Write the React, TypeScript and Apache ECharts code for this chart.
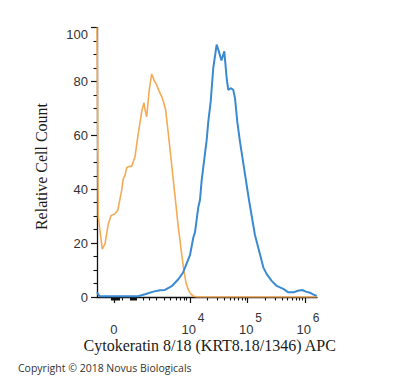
import React, { useEffect, useRef } from "react";
import * as echarts from "echarts";

// x values are in display-decade units of the biexponential scale (4 = 10^4, 5 = 10^5 ...)
const orangeX = [2.383, 2.405, 2.435, 2.475, 2.522, 2.579, 2.626, 2.696, 2.743, 2.812, 2.840, 2.870, 2.899, 2.939, 2.986, 3.043, 3.101, 3.160, 3.200, 3.223, 3.247, 3.270, 3.292, 3.334, 3.374, 3.421, 3.461, 3.508, 3.539, 3.577, 3.623, 3.652, 3.687, 3.722, 3.757, 3.791, 3.826, 3.861, 3.896, 3.930, 3.965, 4.000, 4.052, 4.122, 6.209];
const orangeY = [100, 30, 24.6, 17.8, 19.7, 27.1, 30.2, 30.9, 32.1, 39.6, 43.9, 45.1, 48, 48.5, 48.5, 52, 60.7, 68.8, 72.1, 69, 66.9, 72, 77, 82.8, 80.5, 78.7, 76.5, 74.4, 72.5, 69.4, 60.7, 55, 48, 41, 34, 27, 21, 15, 9.5, 5.5, 3, 1.5, 0.4, 0, 0];

const blueX = [2.383, 2.409, 2.435, 3.096, 3.217, 3.362, 3.478, 3.565, 3.682, 3.797, 3.878, 3.943, 4.000, 4.057, 4.087, 4.144, 4.174, 4.203, 4.261, 4.290, 4.318, 4.360, 4.405, 4.464, 4.504, 4.548, 4.597, 4.638, 4.666, 4.708, 4.753, 4.783, 4.823, 4.870, 4.939, 5.026, 5.130, 5.217, 5.275, 5.334, 5.421, 5.508, 5.623, 5.704, 5.809, 5.878, 5.948, 6.017, 6.087, 6.139, 6.203];
const blueY = [1.8, 0.8, 0.3, 0.3, 1, 2, 2.5, 2.6, 4, 6.6, 9, 12.5, 15.5, 22, 24, 33.3, 36, 43.3, 53.2, 58.2, 65, 72.5, 85, 93.7, 91, 87.8, 91.2, 81.2, 76.9, 77.5, 76.9, 73.8, 65, 57.6, 48, 36, 23, 15.9, 11, 8.5, 6, 4.1, 3, 1.8, 1.8, 2.3, 2.6, 2, 1.6, 1, 0.4];

const xMin = 2.383;
const xMax = 6.209;
const zeroPos = 2.678;
const xMajorTicks = [zeroPos, 4, 5, 6];
const xLowMinorTicks = [2.626, 2.643, 2.661, 2.696, 2.713, 2.730, 2.748, 2.765, 2.826, 2.957, 2.974, 2.991, 3.009, 3.026, 3.048, 3.070, 3.188, 3.292, 3.421, 3.548, 3.664, 3.757, 3.838, 3.896, 3.943];
const decadeMultipliers = [2, 3, 4, 5, 6, 7, 8, 9];

const yMin = 0;
const yMax = 100;
const yInterval = 20;

const xTitle = "Cytokeratin 8/18 (KRT8.18/1346) APC";
const yTitle = "Relative Cell Count";
const copyright = "Copyright \u00A9 2018 Novus Biologicals";

export default function App() {
  const ref = useRef<HTMLDivElement>(null);

  useEffect(() => {
    document.body.style.margin = "0";
    if (!ref.current) return;
    const chart = echarts.init(ref.current, undefined, { renderer: "svg" });

    const minorTicks = [...xLowMinorTicks];
    [4, 5].forEach((d) => decadeMultipliers.forEach((k) => minorTicks.push(d + Math.log10(k))));

    const tickFont = '"Liberation Sans", Arial, sans-serif';

    chart.setOption({
      animation: false,
      backgroundColor: "#ffffff",
      grid: { left: 97, right: 83, top: 27.6, bottom: 81, containLabel: false },
      xAxis: [
        {
          type: "value",
          min: xMin,
          max: xMax,
          position: "bottom",
          axisLine: { show: true, onZero: false, lineStyle: { color: "#111", width: 1.3 } },
          axisTick: { show: true, customValues: xMajorTicks, length: 6, lineStyle: { color: "#111", width: 1.2 } },
          axisLabel: {
            show: true,
            customValues: xMajorTicks,
            margin: 15,
            formatter: (v: number) => (v < 3 ? "{z|0}" : `{b|10}{s|${Math.round(v)}}`),
            rich: {
              z: { fontSize: 13, fontFamily: tickFont, color: "#333", lineHeight: 34 },
              b: { fontSize: 13, fontFamily: tickFont, color: "#333", lineHeight: 34, padding: [0, 0, 0, 6] },
              s: { fontSize: 12, fontFamily: tickFont, color: "#333", verticalAlign: "top", padding: [0, 0, 0, 2] },
            },
          },
          splitLine: { show: false },
        },
        {
          type: "value",
          min: xMin,
          max: xMax,
          position: "bottom",
          offset: 0,
          axisLine: { show: false },
          axisTick: { show: true, customValues: minorTicks, length: 3.5, lineStyle: { color: "#111", width: 1.1 } },
          axisLabel: { show: false },
          splitLine: { show: false },
        },
      ],
      yAxis: {
        type: "value",
        min: yMin,
        max: yMax,
        interval: yInterval,
        axisLine: { show: true, onZero: false, lineStyle: { color: "#111", width: 1.3 } },
        axisTick: { show: true, length: 6, lineStyle: { color: "#111", width: 1.2 } },
        minorTick: { show: true, splitNumber: 4, length: 3.5, lineStyle: { color: "#111", width: 1.1 } },
        axisLabel: {
          margin: 9,
          fontSize: 13,
          fontFamily: tickFont,
          color: "#333",
          verticalAlignMaxLabel: "top",
        },
        splitLine: { show: false },
      },
      series: [
        {
          type: "line",
          xAxisIndex: 0,
          data: orangeX.map((x, i) => [x, orangeY[i]]),
          showSymbol: false,
          symbol: "none",
          lineStyle: { color: "#F4AB55", width: 1.6 },
          clip: true,
          z: 2,
        },
        {
          type: "line",
          xAxisIndex: 0,
          data: blueX.map((x, i) => [x, blueY[i]]),
          showSymbol: false,
          symbol: "none",
          lineStyle: { color: "#3A8AD2", width: 2 },
          clip: true,
          z: 3,
        },
      ],
      graphic: [
        {
          type: "text",
          x: 209.7,
          y: 345,
          style: { text: xTitle, font: '16px "Liberation Serif", serif', fill: "#1a1a1a", align: "center", verticalAlign: "middle" },
        },
        {
          type: "text",
          x: 41.3,
          y: 166.5,
          rotation: Math.PI / 2,
          style: { text: yTitle, font: '16px "Liberation Serif", serif', fill: "#1a1a1a", align: "center", verticalAlign: "middle" },
        },
        {
          type: "text",
          x: 18,
          y: 368,
          style: { text: copyright, font: '10.5px "Open Sans", sans-serif', fill: "#333", align: "left", verticalAlign: "middle" },
        },
      ],
    });

    return () => chart.dispose();
  }, []);

  return <div ref={ref} style={{ width: 400, height: 378 }} />;
}
